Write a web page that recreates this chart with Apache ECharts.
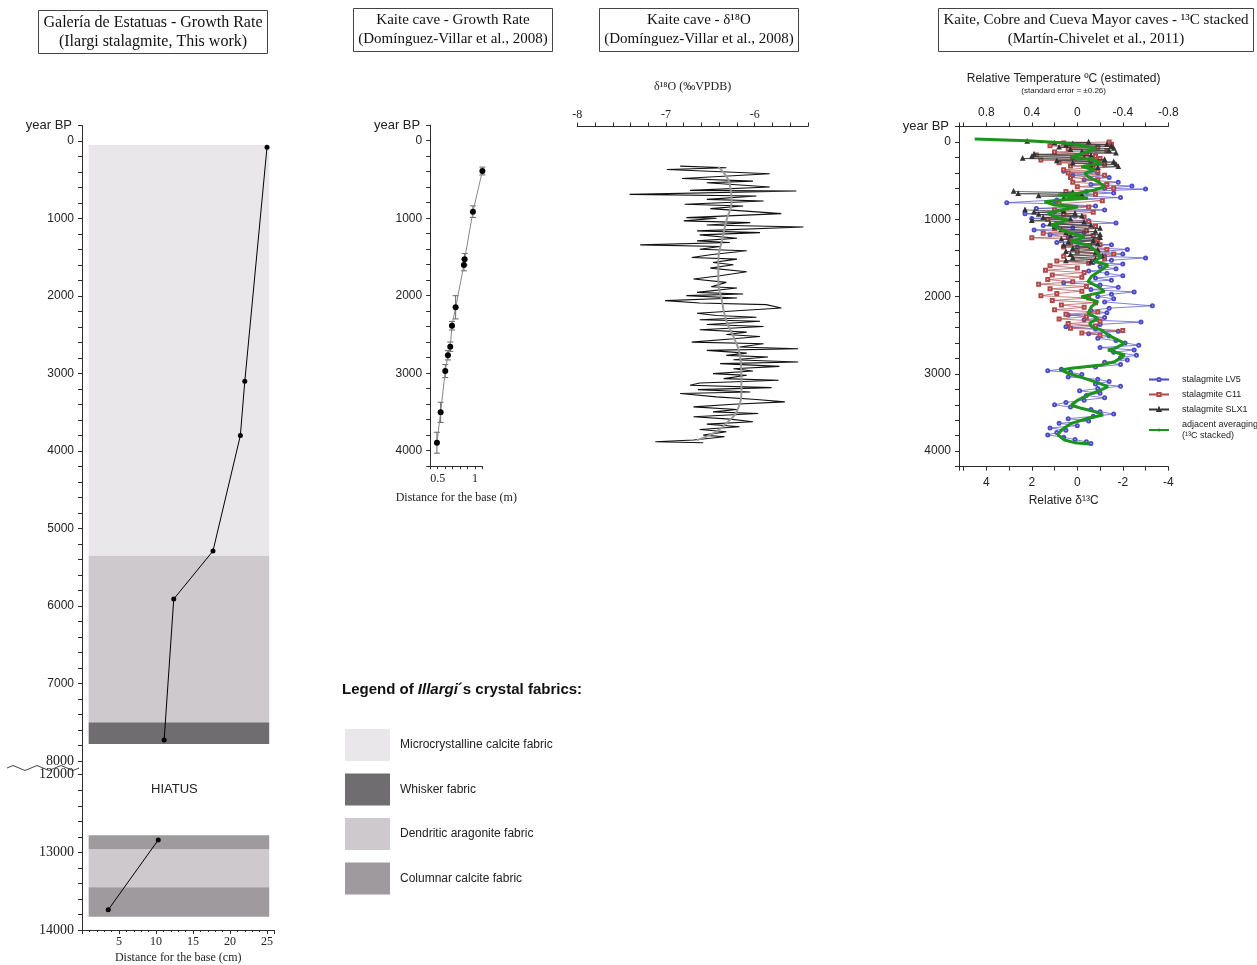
<!DOCTYPE html>
<html>
<head>
<meta charset="utf-8">
<title>Ilargi / Kaite growth rates and isotope records</title>
<script src="https://cdn.jsdelivr.net/npm/echarts@6/dist/echarts.min.js"></script>
<style>
  html, body { margin: 0; padding: 0; background: #fff; }
  #chart { width: 1257px; height: 965px; }
</style>
</head>
<body>
<div id="chart"></div>
<script>
// Ilargi stalagmite (Galeria de Estatuas), distance from base in cm vs age
const ilargiDist = [25.0, 22.0, 21.4, 17.7, 12.4, 11.1];
const ilargiAge = [80, 3100, 3800, 5290, 5910, 7730];
const ilargiDistOld = [10.3, 3.55];
const ilargiAgeOld = [12840, 13740];

// crystal fabric bands: [fabric index, age from, age to]
const fabricNames = ['Microcrystalline calcite fabric', 'Whisker fabric', 'Dendritic aragonite fabric', 'Columnar calcite fabric'];
const bandsUpper = [[0, 50, 5350], [2, 5350, 7500], [1, 7500, 7780]];
const bandsLower = [[3, 12780, 12960], [2, 12960, 13450], [3, 13450, 13830]];
const bandDist = [0.9, 25.3];

// Kaite growth rate (m vs age)
const kaiteDist = [1.10, 0.973, 0.862, 0.852, 0.741, 0.692, 0.669, 0.638, 0.602, 0.540, 0.490];
const kaiteAge = [391, 916, 1530, 1604, 2150, 2387, 2658, 2769, 2972, 3505, 3897];
const kaiteAgeErr = [50, 75, 75, 75, 150, 55, 60, 60, 85, 130, 135];

// Kaite d18O
const o18Age = [313, 335, 357, 412, 473, 507, 529, 584, 627, 636, 679, 701, 744, 765, 808, 830, 864, 929, 980, 989,
  1023, 1045, 1075, 1101, 1152, 1174, 1204, 1247, 1281, 1303, 1333, 1354, 1389, 1410, 1462, 1496, 1518, 1561, 1591, 1634,
  1681, 1733, 1776, 1819, 1875, 1892, 1948, 1969, 1991, 2021, 2055, 2086, 2107, 2150, 2218, 2249, 2270, 2304, 2322, 2365,
  2390, 2433, 2464, 2494, 2520, 2550, 2593, 2614, 2657, 2679, 2700, 2735, 2765, 2786, 2821, 2851, 2872, 2907, 2937, 2967,
  3001, 3023, 3066, 3087, 3122, 3152, 3182, 3208, 3238, 3259, 3302, 3337, 3367, 3397, 3431, 3466, 3496, 3517, 3560, 3590,
  3625, 3655, 3689, 3724, 3754, 3797, 3818, 3861, 3883, 3896];
const o18Value = [-6.84, -6.32, -6.99, -5.83, -6.82, -6.02, -6.54, -5.83, -6.73, -5.53, -7.41, -5.98, -6.54, -5.90, -6.79, -6.13, -6.50, -5.70, -6.77, -6.43,
  -6.80, -6.05, -6.54, -5.45, -6.65, -5.94, -6.62, -6.20, -6.65, -6.28, -7.29, -6.39, -6.62, -6.09, -6.50, -6.71, -6.20, -6.47, -6.24, -6.50,
  -6.09, -6.39, -6.69, -6.32, -6.49, -6.20, -6.65, -6.13, -6.77, -6.20, -7.01, -6.62, -5.87, -5.70, -6.65, -6.43, -5.98, -6.62, -5.94, -6.54,
  -5.90, -6.62, -6.09, -6.32, -5.94, -6.24, -6.71, -5.90, -6.17, -5.51, -6.54, -6.09, -6.32, -5.85, -6.24, -5.51, -6.39, -5.72, -6.24, -6.02,
  -6.47, -6.09, -6.35, -5.73, -6.62, -6.73, -5.81, -6.64, -6.05, -6.84, -6.43, -5.98, -5.66, -6.24, -6.69, -6.20, -6.47, -5.96, -6.69, -6.28,
  -6.02, -6.54, -6.17, -6.62, -6.32, -6.58, -6.34, -6.69, -7.12, -6.58];
const o18TrendAge = [326, 550, 765, 1023, 1281, 1540, 1798, 2055, 2314, 2572, 2744, 3002, 3217, 3432, 3647, 3776, 3862];
const o18TrendValue = [-6.41, -6.28, -6.26, -6.32, -6.37, -6.41, -6.41, -6.37, -6.32, -6.22, -6.17, -6.15, -6.15, -6.18, -6.32, -6.47, -6.65];

// stacked d13C records: [age, relative d13C]; null breaks the line
const lv5 = [[380, 0.6], [400, -0.9], [430, 0.2], [460, -1.4], [490, -0.3], [520, -1.8], [550, -0.6], [570, -2.4], [600, -1.2], [610, -3.0],
  [640, -0.4], [660, -1.6], [690, 0.2], [720, -1.9], [750, 0.9], [785, 3.1], [800, 1.0], [830, -0.8], [860, 1.8], [880, -1.2],
  [900, 1.0], [930, 2.3], [960, 0.1], [990, 2.0], [1020, -0.5], [1050, -1.7], [1080, 1.5], [1110, 0.2], [1140, 1.9], [1170, -0.3],
  [1200, 1.2], [1230, 0.4], [1260, -0.8], [1300, 0.9], [1330, -1.5], [1360, 0.0], [1390, -2.2], [1420, -0.9], [1450, -2.0], [1480, -1.2],
  [1500, -3.0], [1530, -1.5], [1560, -0.7], [1580, -2.0], [1610, -1.0], [1640, -1.7], [1670, -0.5], [1700, -1.3], [1730, -2.0], [1760, -0.8],
  [1790, -1.5], [1820, 0.6], [1850, -1.0], [1880, -1.8], [1910, -0.6], [1940, -2.5], [1970, -1.5], [2000, -0.9], [2030, -1.6], [2070, -1.2],
  [2120, -3.3], [2150, -1.4], [2180, -0.6], [2210, -1.3], [2240, 0.4], [2270, -1.2], [2300, -0.3], [2330, -2.8], [2360, -1.0], [2390, 0.5],
  [2420, -0.8], [2450, -1.8], [2480, -0.5], [2510, -1.4], [2540, -0.9], [2570, -1.7], [2600, -2.1], [2630, -2.7], [2660, -1.0], [2690, -2.5],
  [2720, -1.6], [2760, -2.6], [2790, -1.9], [2820, -2.2], [2850, -1.2], [2880, -1.9], [2910, -0.8], [2940, 0.7], [2960, 1.3], [2980, 0.3],
  [3010, -0.2], [3040, 0.4], [3070, -0.9], [3100, -1.4], [3130, -0.8], [3160, -1.9], [3190, -0.9], [3220, -0.1], [3250, -1.0], [3280, -0.4],
  [3310, -1.2], [3340, -0.3], [3370, 0.5], [3400, 1.0], [3430, 0.3], [3460, -0.6], [3490, -1.0], [3520, -1.6], [3550, -0.7], [3580, 0.4],
  [3610, -0.5], [3640, 0.8], [3670, 0.0], [3700, 1.2], [3730, 0.5], [3760, 0.9], [3790, 1.3], [3820, 0.6], [3850, 0.1], [3880, -0.4], [3900, -0.6]];
const c11 = [[0, -1.4], [15, 0.6], [30, -1.5], [50, 1.2], [70, -0.9], [90, 0.4], [110, -1.3], [130, 1.0], [150, -0.4], [170, 1.8],
  [185, -0.8], [200, 0.2], [215, -1.0], [235, 1.6], [250, -0.6], [270, 0.8], [290, -1.2], [310, 0.3], [330, -0.7], [360, 0.6],
  [380, -0.9], [400, 0.4], [430, -1.2], [460, 0.3], [490, -0.9], [520, 0.2], [550, -1.3], [580, 0.0], [600, -1.6], [640, 0.5],
  [680, -0.8], [720, 0.3], [760, -1.1], [800, 0.8], [840, -0.5], [880, 1.0], [910, -0.7], [940, 0.6], [970, -0.3], [1000, 1.3],
  [1030, -0.5], [1060, 0.9], [1090, -0.8], [1120, 1.0], [1150, -0.4], [1180, 1.5], [1210, -0.7], [1240, 2.0], [1270, -0.9], [1300, 0.3],
  [1330, -1.0], [1360, 0.6], [1390, -1.3], [1420, 0.0], [1450, -1.6], [1480, 0.6], [1510, -1.2], [1540, 0.9], [1570, -0.5], [1600, 1.2],
  [1630, 0.0], [1660, 1.4], [1690, -0.3], [1720, 1.1], [1750, -0.2], [1780, 1.3], [1810, 0.2], [1840, 1.7], [1870, -0.4], [1900, 1.2],
  [1930, -0.2], [1960, 0.9], [1990, 1.6], [2020, -0.5], [2050, 1.1], [2080, -0.8], [2110, 0.7], [2140, -0.3], [2170, 1.0], [2200, -0.9],
  [2230, 0.5], [2260, -0.4], [2290, 0.8], [2320, -1.0], [2350, 0.4], [2380, -0.8], [2410, 0.3], [2440, -2.0], [2470, -0.2], [2500, -1.0]];
const slx1 = [[-5, 2.2], [5, -0.5], [15, 1.0], [25, 0.2], [35, -1.3], [45, 0.5], [55, -1.5], [70, 0.8], [85, -1.6], [100, 0.3],
  [115, -1.4], [130, -0.2], [145, -1.7], [160, 1.9], [175, -0.6], [190, 2.0], [205, -0.3], [215, 2.4], [230, -1.2], [245, 0.9],
  [260, -1.6], [275, 0.2], [290, -1.7], [305, -0.6], [320, -1.8], [335, -0.9], null,
  [640, 2.8], [655, 0.2], [670, 2.6], [685, -0.2], [700, 1.7], [715, 0.0], [730, 0.6], null,
  [880, 2.3], [895, 0.6], [910, 1.9], [925, 0.1], [940, 1.7], [960, -0.2], [980, 1.5], [1000, 0.3], [1020, 2.0], [1040, -0.3],
  [1060, 1.2], [1080, -0.6], [1100, 1.0], [1120, -1.0], [1140, 0.7], [1160, -0.8], [1180, 0.5], [1200, -1.0], [1220, 0.3], [1240, -1.0],
  [1260, 0.7], [1280, -0.7], [1300, 0.4], [1320, -0.9], [1340, 0.6], [1360, -0.6], [1380, 0.2], [1400, -0.9], [1420, 0.5], [1440, -0.8],
  [1460, 0.3], [1480, -1.1], [1500, 0.2], [1520, -0.8], [1540, 0.5], [1555, -0.6]];
const stacked = [[-39, 4.51], [-17, 2.17], [9, 0.70], [39, -0.03], [82, -0.76], [125, -0.47], [190, 0.26], [233, -0.76], [276, -1.05], [319, -0.18],
  [362, -0.76], [406, -0.32], [449, -0.47], [513, -0.91], [578, -1.20], [621, -0.76], [664, -0.03], [686, 0.85], [707, 0.26], [729, -0.47],
  [751, 0.70], [772, 1.44], [815, 1.00], [837, -0.03], [880, 0.70], [923, 1.29], [966, 1.00], [1009, 0.41], [1074, 1.14], [1139, 0.70],
  [1182, 0.26], [1225, -0.32], [1290, 0.26], [1333, -0.47], [1397, -0.76], [1484, -1.05], [1548, -0.76], [1591, -1.35], [1656, -1.05], [1742, -0.62],
  [1807, -0.47], [1872, -0.91], [1936, -1.20], [2001, -0.18], [2066, -0.91], [2131, -0.62], [2217, -0.47], [2282, -0.91], [2346, -0.54], [2389, -0.62],
  [2432, -1.05], [2519, -1.49], [2605, -2.08], [2670, -1.64], [2691, -1.35], [2756, -2.08], [2842, -1.64], [2885, -1.05], [2928, 0.26], [2950, 0.70],
  [2993, 0.41], [3045, -0.18], [3101, -0.76], [3165, -1.35], [3209, -1.05], [3273, -0.47], [3338, -0.03], [3403, 0.26], [3446, -0.18], [3489, -0.76],
  [3532, -1.13], [3575, -0.47], [3640, 0.26], [3726, 0.70], [3791, 0.85], [3855, 0.56], [3890, 0.12], [3907, -0.54]];

const SANS = '"Liberation Sans", Arial, sans-serif';
const SERIF = '"Liberation Serif", "Times New Roman", serif';
const AXIS = '#2b2b2b';
const fabricColors = ['#e9e7ea', '#6f6d70', '#cdc9cc', '#9e9a9d'];

const near = (v, step) => Math.abs(v / step - Math.round(v / step)) < 1e-6;
const yearLabel = v => (v >= 0 && near(v, 1000) ? String(v) : '');
const axisLine = { show: true, onZero: false, lineStyle: { color: AXIS } };

function yearAxis(gridIndex, min, max, extra) {
  return Object.assign({
    type: 'value', gridIndex, min, max, interval: 200, inverse: true,
    axisLine,
    axisTick: { show: true, length: 4, lineStyle: { color: AXIS } },
    axisLabel: { formatter: yearLabel, color: '#222', fontFamily: SANS, fontSize: 12, margin: 8 },
    splitLine: { show: false }
  }, extra || {});
}
const yearName = {
  name: 'year BP', nameLocation: 'start', nameGap: 0,
  nameTextStyle: { fontFamily: SANS, fontSize: 13, color: '#222', align: 'right', verticalAlign: 'middle', padding: [0, 10, 0, 0] }
};

function bandSeries(bands, fabric, axisIdx) {
  return {
    type: 'custom', name: fabricNames[fabric], xAxisIndex: axisIdx, yAxisIndex: axisIdx, z: 1,
    itemStyle: { color: fabricColors[fabric] },
    data: bands.filter(b => b[0] === fabric).map(b => [b[1], b[2]]),
    encode: { y: [0, 1] },
    renderItem: (params, api) => {
      const p0 = api.coord([bandDist[0], api.value(0)]);
      const p1 = api.coord([bandDist[1], api.value(1)]);
      return { type: 'rect', shape: { x: p0[0], y: p0[1], width: p1[0] - p0[0], height: p1[1] - p0[1] },
        style: { fill: fabricColors[fabric] } };
    }
  };
}

const titleBox = (text, center, top, size) => ({
  text, left: center, top, textAlign: 'center',
  padding: [3, 5], borderColor: '#444', borderWidth: 1,
  textStyle: { fontFamily: SERIF, fontSize: size || 15, fontWeight: 'normal', color: '#111', lineHeight: 19 }
});

const chart = echarts.init(document.getElementById('chart'));

const option = {
  animation: false,
  backgroundColor: '#fff',
  title: [
    titleBox('Galería de Estatuas - Growth Rate\n(Ilargi stalagmite, This work)', 148, 10, 16),
    titleBox('Kaite cave - Growth Rate\n(Domínguez-Villar et al., 2008)', 448, 8),
    titleBox('Kaite cave - δ¹⁸O\n(Domínguez-Villar et al., 2008)', 694, 8),
    titleBox('Kaite, Cobre and Cueva Mayor caves - ¹³C stacked\n(Martín-Chivelet et al., 2011)', 1091, 8),
    {
      text: '{b|Legend of }{i|Illargi}{b|´s crystal fabrics:}', left: 342, top: 682, padding: 0,
      textStyle: { rich: {
        b: { fontFamily: SANS, fontSize: 15, fontWeight: 'bold', color: '#111' },
        i: { fontFamily: SANS, fontSize: 15, fontWeight: 'bold', fontStyle: 'italic', color: '#111' }
      } }
    }
  ],
  legend: [
    {
      data: fabricNames, orient: 'vertical', left: 345, top: 729, padding: 0,
      icon: 'rect', itemWidth: 45, itemHeight: 32, itemGap: 12.5, selectedMode: false,
      textStyle: { fontFamily: SANS, fontSize: 12, color: '#222', padding: [0, 0, 0, 5] }
    },
    {
      data: [
        { name: 'stalagmite LV5', lineStyle: { type: 'dashed' } },
        { name: 'stalagmite C11', lineStyle: { type: 'dashed' } },
        { name: 'stalagmite SLX1', lineStyle: { type: 'dashed' } },
        { name: 'adjacent averaging' }
      ],
      formatter: n => (n === 'adjacent averaging' ? 'adjacent averaging\n(¹³C stacked)' : n),
      orient: 'vertical', left: 1148, top: 374, padding: 0, selectedMode: false,
      itemWidth: 20, itemHeight: 4, itemGap: 4,
      textStyle: { fontFamily: SANS, fontSize: 9, color: '#222', lineHeight: 11, padding: [0, 0, 0, 8] }
    }
  ],
  grid: [
    { left: 82, top: 125.5, width: 192.4, height: 635.5, outerBoundsMode: 'none' },
    { left: 82, top: 774.7, width: 192.4, height: 155.3, outerBoundsMode: 'none' },
    { left: 430.2, top: 125.2, width: 52.2, height: 341, outerBoundsMode: 'none' },
    { left: 577.3, top: 126.5, width: 230.6, height: 339.7, outerBoundsMode: 'none' },
    { left: 959, top: 126.5, width: 209.3, height: 340.1, outerBoundsMode: 'none' }
  ],
  xAxis: [
    { type: 'value', gridIndex: 0, min: 0, max: 26, show: false },
    {
      type: 'value', gridIndex: 1, min: 0, max: 26, interval: 5, axisLine,
      axisTick: { length: 4, lineStyle: { color: AXIS } },
      minorTick: { show: true, splitNumber: 5, length: 2, lineStyle: { color: AXIS } },
      axisLabel: { formatter: v => (v > 0 && near(v, 5) ? String(v) : ''), fontFamily: SERIF, fontSize: 12, color: '#222', margin: 6 },
      splitLine: { show: false },
      name: 'Distance for the base (cm)', nameLocation: 'middle', nameGap: 22,
      nameTextStyle: { fontFamily: SERIF, fontSize: 12, color: '#222' }
    },
    {
      type: 'value', gridIndex: 2, min: 0.4, max: 1.1, interval: 0.1, axisLine,
      axisTick: { length: 3, lineStyle: { color: AXIS } },
      axisLabel: { formatter: v => (Math.abs(v - 0.5) < 1e-6 ? '0.5' : Math.abs(v - 1) < 1e-6 ? '1' : ''), fontFamily: SERIF, fontSize: 12, color: '#222', margin: 7 },
      splitLine: { show: false },
      name: 'Distance for the base (m)', nameLocation: 'middle', nameGap: 26,
      nameTextStyle: { fontFamily: SERIF, fontSize: 12, color: '#222' }
    },
    {
      type: 'value', gridIndex: 3, position: 'top', min: -8, max: -5.4, interval: 0.2, axisLine,
      axisTick: { length: 4, lineStyle: { color: AXIS } },
      axisLabel: { formatter: v => (near(v, 1) ? String(Math.round(v)) : ''), fontFamily: SERIF, fontSize: 12, color: '#222', margin: 6 },
      splitLine: { show: false },
      name: 'δ¹⁸O (‰VPDB)', nameLocation: 'middle', nameGap: 34,
      nameTextStyle: { fontFamily: SERIF, fontSize: 12, color: '#222' }
    },
    {
      type: 'value', gridIndex: 4, min: -4, max: 5.2, interval: 1, inverse: true, axisLine,
      axisTick: { length: 4, lineStyle: { color: AXIS } },
      axisLabel: { formatter: v => (near(v, 2) && Math.abs(v) <= 4 ? String(Math.round(v)) : ''), fontFamily: SANS, fontSize: 12, color: '#222', margin: 10 },
      splitLine: { show: false },
      name: 'Relative δ¹³C', nameLocation: 'middle', nameGap: 28,
      nameTextStyle: { fontFamily: SANS, fontSize: 12, color: '#222' }
    },
    {
      type: 'value', gridIndex: 4, position: 'top', min: -0.8, max: 1.04, interval: 0.2, inverse: true, axisLine,
      axisTick: { length: 4, lineStyle: { color: AXIS } },
      axisLabel: { formatter: v => (near(v, 0.4) && Math.abs(v) <= 0.8 ? (Math.abs(v) < 1e-6 ? '0' : v.toFixed(1)) : ''), fontFamily: SANS, fontSize: 12, color: '#222', margin: 8 },
      splitLine: { show: false },
      name: '{t|Relative Temperature ºC (estimated)}\n{s|(standard error = ±0.26)}', nameLocation: 'middle', nameGap: 30,
      nameTextStyle: { rich: {
        t: { fontFamily: SANS, fontSize: 12, color: '#222', lineHeight: 14 },
        s: { fontFamily: SANS, fontSize: 8, color: '#222', lineHeight: 11 }
      } }
    }
  ],
  yAxis: [
    yearAxis(0, -200, 8000, Object.assign({
      axisLabel: {
        formatter: v => (v === 8000 ? '{s|8000}' : yearLabel(v)),
        color: '#222', fontFamily: SANS, fontSize: 12, margin: 8,
        rich: { s: { fontFamily: SERIF, fontSize: 14, color: '#222' } }
      }
    }, yearName)),
    yearAxis(1, 12000, 14000, { axisLabel: { formatter: yearLabel, color: '#222', fontFamily: SERIF, fontSize: 14, margin: 8 } }),
    yearAxis(2, -200, 4200, yearName),
    yearAxis(3, -200, 4200, { show: false }),
    yearAxis(4, -200, 4200, yearName)
  ],
  graphic: [
    { type: 'text', left: 151, top: 783, style: { text: 'HIATUS', font: '13px "Liberation Sans", Arial, sans-serif', fill: '#222' } },
    { type: 'line', shape: { x1: 82.5, y1: 761, x2: 82.5, y2: 775 }, style: { stroke: AXIS, lineWidth: 1 } },
    { type: 'polyline', smooth: 0.5,
      shape: { points: [[7, 768], [13, 765.5], [19, 768], [25, 770.5], [31, 768], [37, 765.5], [43, 768], [49, 770.5], [55, 768], [61, 765.5], [67, 768], [73, 770.5], [79, 768]] },
      style: { stroke: '#444', lineWidth: 1, fill: null } }
  ],
  series: [
    bandSeries(bandsUpper, 0, 0),
    bandSeries(bandsUpper, 1, 0),
    bandSeries(bandsUpper, 2, 0),
    bandSeries(bandsLower, 2, 1),
    bandSeries(bandsLower, 3, 1),
    {
      type: 'line', name: 'Ilargi', xAxisIndex: 0, yAxisIndex: 0, z: 5,
      data: ilargiDist.map((d, i) => [d, ilargiAge[i]]),
      symbol: 'circle', symbolSize: 5, itemStyle: { color: '#000' }, lineStyle: { color: '#000', width: 1 }
    },
    {
      type: 'line', name: 'Ilargi old', xAxisIndex: 1, yAxisIndex: 1, z: 5,
      data: ilargiDistOld.map((d, i) => [d, ilargiAgeOld[i]]),
      symbol: 'circle', symbolSize: 5, itemStyle: { color: '#000' }, lineStyle: { color: '#000', width: 1 }
    },
    {
      type: 'line', name: 'Kaite growth', xAxisIndex: 2, yAxisIndex: 2, z: 4,
      data: kaiteDist.map((d, i) => [d, kaiteAge[i]]),
      symbol: 'circle', symbolSize: 6, itemStyle: { color: '#000' }, lineStyle: { color: '#888', width: 1 }
    },
    {
      type: 'custom', name: 'Kaite error', xAxisIndex: 2, yAxisIndex: 2, z: 3,
      data: kaiteDist.map((d, i) => [d, kaiteAge[i], kaiteAgeErr[i]]),
      encode: { x: 0, y: 1 },
      renderItem: (params, api) => {
        const x = api.value(0), y = api.value(1), e = api.value(2);
        const a = api.coord([x, y - e]), b = api.coord([x, y + e]);
        const w = 3;
        const st = { stroke: '#666', lineWidth: 1 };
        return { type: 'group', children: [
          { type: 'line', shape: { x1: a[0], y1: a[1], x2: b[0], y2: b[1] }, style: st },
          { type: 'line', shape: { x1: a[0] - w, y1: a[1], x2: a[0] + w, y2: a[1] }, style: st },
          { type: 'line', shape: { x1: b[0] - w, y1: b[1], x2: b[0] + w, y2: b[1] }, style: st }
        ] };
      }
    },
    {
      type: 'line', name: 'd18O', xAxisIndex: 3, yAxisIndex: 3, z: 3,
      data: o18Value.map((v, i) => [v, o18Age[i]]),
      symbol: 'none', lineStyle: { color: '#111', width: 1.1 }
    },
    {
      type: 'line', name: 'd18O trend', xAxisIndex: 3, yAxisIndex: 3, z: 4, smooth: true,
      data: o18TrendValue.map((v, i) => [v, o18TrendAge[i]]),
      symbol: 'none', lineStyle: { color: '#9a9a9a', width: 2 }
    },
    {
      type: 'line', name: 'stalagmite LV5', xAxisIndex: 4, yAxisIndex: 4, z: 3,
      data: lv5.map(p => [p[1], p[0]]),
      symbol: 'emptyCircle', symbolSize: 3, color: '#4b4bc8',
      itemStyle: { color: '#4b4bc8', borderWidth: 0.8 }, lineStyle: { color: '#4b4bc8', width: 0.7 }
    },
    {
      type: 'line', name: 'stalagmite C11', xAxisIndex: 4, yAxisIndex: 4, z: 4,
      data: c11.map(p => [p[1], p[0]]),
      symbol: 'emptyRect', symbolSize: 3, color: '#b04a4a',
      itemStyle: { color: '#b04a4a', borderWidth: 0.8 }, lineStyle: { color: '#b04a4a', width: 0.7 }
    },
    {
      type: 'line', name: 'stalagmite SLX1', xAxisIndex: 4, yAxisIndex: 4, z: 5,
      data: slx1.map(p => (p ? [p[1], p[0]] : '-')),
      symbol: 'emptyTriangle', symbolSize: 2.5, color: '#333',
      itemStyle: { color: '#333', borderWidth: 0.8 }, lineStyle: { color: '#333', width: 0.7 }
    },
    {
      type: 'line', name: 'adjacent averaging', xAxisIndex: 4, yAxisIndex: 4, z: 6,
      data: stacked.map(p => [p[1], p[0]]),
      symbol: 'none', color: '#1c931c', lineStyle: { color: '#1c931c', width: 3 }
    }
  ]
};

chart.setOption(option);
</script>
</body>
</html>
